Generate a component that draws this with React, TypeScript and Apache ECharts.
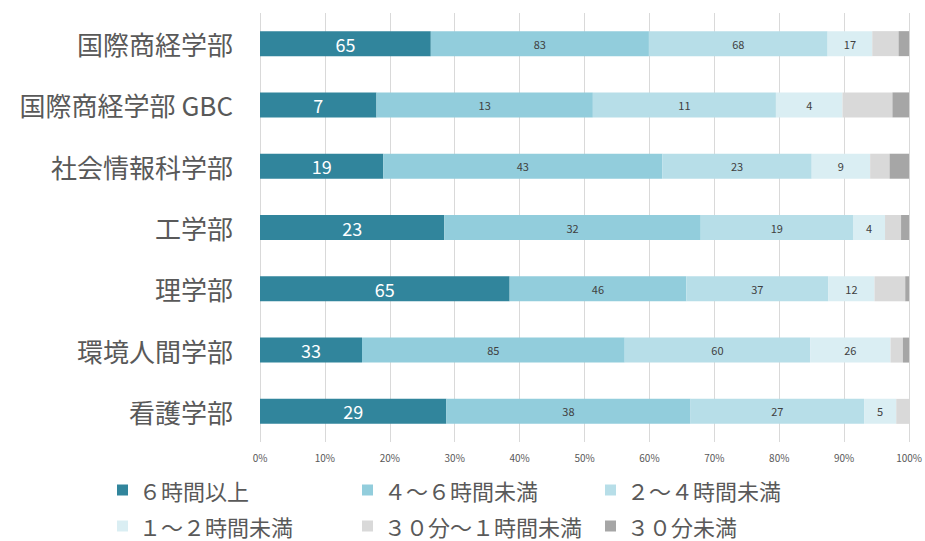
import React, { useEffect, useRef } from "react";
import * as echarts from "echarts";

const categories = [
  "国際商経学部",
  "国際商経学部 GBC",
  "社会情報科学部",
  "工学部",
  "理学部",
  "環境人間学部",
  "看護学部",
];

const seriesNames = [
  "６時間以上",
  "４～６時間未満",
  "２～４時間未満",
  "１～２時間未満",
  "３０分～１時間未満",
  "３０分未満",
];

const over6h = [65, 7, 19, 23, 65, 33, 29];
const h4to6 = [83, 13, 43, 32, 46, 85, 38];
const h2to4 = [68, 11, 23, 19, 37, 60, 27];
const h1to2 = [17, 4, 9, 4, 12, 26, 5];
const m30to1h = [10, 3, 3, 2, 8, 4, 2];
const under30m = [4, 1, 3, 1, 1, 2, 0];

const colors = ["#31859C", "#92CDDC", "#B7DEE8", "#DAEEF3", "#D9D9D9", "#A6A6A6"];

const xTicks = [0, 10, 20, 30, 40, 50, 60, 70, 80, 90, 100];

export default function App() {
  const ref = useRef<HTMLDivElement>(null);
  useEffect(() => {
    document.body.style.margin = "0";
    if (!ref.current) return;
    const chart = echarts.init(ref.current, null, { renderer: "svg" });
    const counts = [over6h, h4to6, h2to4, h1to2, m30to1h, under30m];
    const totals = categories.map((_, i) => counts.reduce((s, arr) => s + arr[i], 0));
    const font = "'Noto Sans CJK JP', 'Noto Sans', sans-serif";

    const series = counts.map((arr, si) => ({
      name: seriesNames[si],
      type: "bar",
      stack: "total",
      barWidth: 25,
      itemStyle: { color: colors[si] },
      label: {
        show: si < 4,
        position: "inside",
        color: si === 0 ? "#FFFFFF" : "#404040",
        fontSize: si === 0 ? 18 : 11,
        fontFamily: font,
        formatter: (p: any) => String(arr[p.dataIndex]),
      },
      emphasis: { disabled: true },
      data: arr.map((v, i) => (v / totals[i]) * 100),
    }));

    const legendPos = [
      { left: 112, top: 474 },
      { left: 357, top: 474 },
      { left: 600, top: 474 },
      { left: 112, top: 510 },
      { left: 357, top: 510 },
      { left: 600, top: 510 },
    ];

    chart.setOption({
      animation: false,
      textStyle: { fontFamily: font },
      grid: { left: 260, right: 15, top: 13, bottom: 99, containLabel: false },
      xAxis: {
        type: "value",
        min: xTicks[0],
        max: xTicks[xTicks.length - 1],
        interval: 10,
        axisLine: { show: false },
        axisTick: { show: false },
        splitLine: { show: true, lineStyle: { color: "#D9D9D9", width: 1 } },
        axisLabel: {
          formatter: "{value}%",
          color: "#595959",
          fontSize: 10,
          margin: 10,
          fontFamily: font,
        },
      },
      yAxis: {
        type: "category",
        data: categories,
        inverse: true,
        axisLine: { show: false },
        axisTick: { show: false },
        axisLabel: {
          color: "#595959",
          fontSize: 26,
          margin: 27,
          fontFamily: font,
        },
      },
      legend: seriesNames.map((n, i) => ({
        data: [n],
        left: legendPos[i].left,
        top: legendPos[i].top,
        icon: "rect",
        itemWidth: 11,
        itemHeight: 11,
        selectedMode: false,
        textStyle: {
          color: "#595959",
          fontSize: 22,
          fontFamily: font,
          padding: [0, 0, 0, 6],
        },
      })),
      series,
    });
    return () => chart.dispose();
  }, []);
  return <div ref={ref} style={{ width: 925, height: 541 }} />;
}
